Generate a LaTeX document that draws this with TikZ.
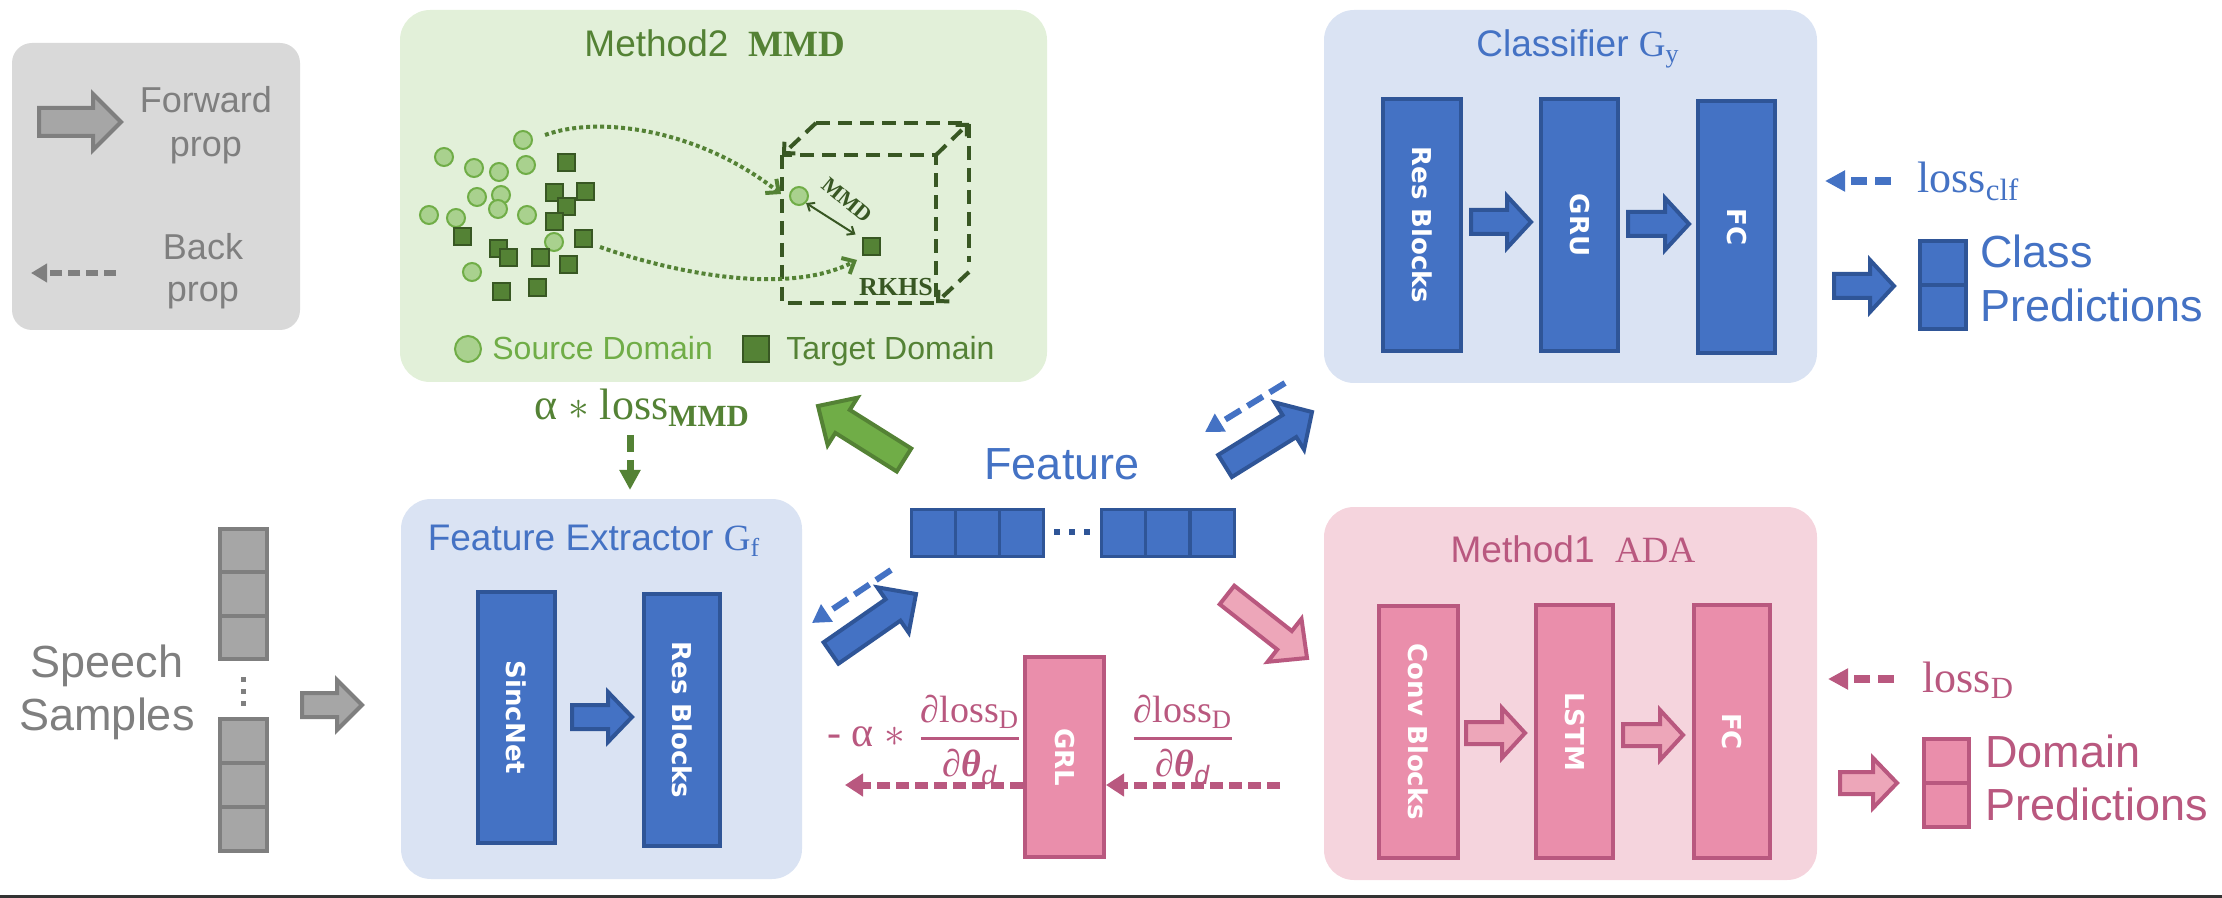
\documentclass[tikz,border=0pt]{standalone}
\usepackage{fontspec}
\setmainfont{Liberation Sans}
\newfontfamily\tms{Liberation Serif}
\newfontfamily\blk{DejaVu Sans}
\usetikzlibrary{calc,fit,arrows.meta}
\definecolor{cBlue}{HTML}{4472C4}
\definecolor{cBlueD}{HTML}{2F5597}
\definecolor{cBlueL}{HTML}{DAE3F3}
\definecolor{cGreenL}{HTML}{E2F0D9}
\definecolor{cGreen}{HTML}{70AD47}
\definecolor{cGreenD}{HTML}{548235}
\definecolor{cGreenDD}{HTML}{385723}
\definecolor{cSrc}{HTML}{A9D18E}
\definecolor{cPinkL}{HTML}{F5D4DD}
\definecolor{cPink}{HTML}{EA8EAB}
\definecolor{cPinkA}{HTML}{EDA6B9}
\definecolor{cPinkD}{HTML}{B9587F}
\definecolor{cGray}{HTML}{D9D9D9}
\definecolor{cGrayM}{HTML}{A6A6A6}
\definecolor{cGrayD}{HTML}{7F7F7F}
\newcommand\blockarrow[6]{%
  \path ($(#3)!#6!(#2)$) coordinate (bahb);
  \draw[#1] ($(#2)!#4!90:(#3)$) -- ($(bahb)!#4!90:(#3)$) -- ($(bahb)!#5!90:(#3)$) -- (#3)
     -- ($(bahb)!#5!-90:(#3)$) -- ($(bahb)!#4!-90:(#3)$) -- ($(#2)!#4!-90:(#3)$) -- cycle;}
\tikzset{
  panel/.style={rounded corners=15pt, inner sep=0pt},
  blkbase/.style={line width=2pt, inner sep=0pt, rotate=-90, text=white,
     font=\blk\bfseries\fontsize{13pt}{15pt}\selectfont},
  bblk/.style={blkbase, draw=cBlueD, fill=cBlue},
  pblk/.style={blkbase, draw=cPinkD, fill=cPink},
  barB/.style={fill=cBlue, draw=cBlueD, line width=2pt},
  barP/.style={fill=cPinkA, draw=cPinkD, line width=2pt},
  barG/.style={fill=cGreen, draw=cGreenD, line width=2pt},
  barGr/.style={fill=cGrayM, draw=cGrayD, line width=2pt},
  bbk/.style={draw=cBlue, line width=3pt, dash pattern=on 9pt off 4pt, -{Triangle[length=9pt,width=10pt]}},
  pbk/.style={draw=cPinkD, line width=3.5pt, dash pattern=on 6.5pt off 3pt, -{Triangle[length=9pt,width=11pt]}},
  lossB/.style={draw=cBlue, line width=4pt, dash pattern=on 8pt off 4pt, -{Triangle[length=10pt,width=10pt]}},
  lossP/.style={draw=cPinkD, line width=4pt, dash pattern=on 8pt off 4pt, -{Triangle[length=10pt,width=10pt]}},
  gbk/.style={draw=cGrayD, line width=3pt, dash pattern=on 6pt off 3pt, -{Triangle[length=8pt,width=9pt]}},
  gvk/.style={draw=cGreenD, line width=3.5pt, dash pattern=on 8.5pt off 4pt, -{Triangle[length=10pt,width=10pt]}},
  dotc/.style={draw=cGreenD, line width=2pt, dash pattern=on 2pt off 1.5pt, -{Straight Barb[length=5pt,width=9pt]}},
  cube/.style={draw=cGreenDD, line width=2pt, dash pattern=on 7pt off 4pt},
  cubea/.style={cube, -{Straight Barb[length=4pt,width=8pt]}},
  src/.style={circle, fill=cSrc, draw=cGreen, line width=1pt, minimum size=9pt, inner sep=0pt},
  tgt/.style={rectangle, fill=cGreenD, draw=cGreenDD, line width=1pt, minimum size=8.5pt, inner sep=0pt},
  gcell/.style={rectangle, fill=cGrayM, draw=cGrayD, line width=2pt, minimum width=23.5pt, minimum height=21.75pt, inner sep=0pt},
  fcell/.style={rectangle, fill=cBlue, draw=cBlueD, line width=1.5pt, minimum width=22pt, minimum height=23.5pt, inner sep=0pt},
  ccell/.style={rectangle, fill=cBlue, draw=cBlueD, line width=2pt, minimum width=23pt, minimum height=22pt, inner sep=0pt},
  dcell/.style={rectangle, fill=cPink, draw=cPinkD, line width=2pt, minimum width=22.5pt, minimum height=22pt, inner sep=0pt},
  txt/.style={inner sep=0pt},
  ltxt/.style={txt, text=cGrayD, font=\fontsize{18pt}{20pt}\selectfont},
  bigtxt/.style={txt, font=\fontsize{22.5pt}{26pt}\selectfont},
  ttl/.style={txt, font=\fontsize{18.5pt}{21pt}\selectfont},
  frc/.style={txt, text=cPinkD, font=\tms\fontsize{19pt}{21pt}\selectfont},
}
\begin{document}
\begin{tikzpicture}[x=0.5pt,y=-0.5pt]
\useasboundingbox (0,0) rectangle (2222,898);
% panels
\node[panel, rounded corners=10pt, fill=cGray, fit={(12,43)(300,330)}] (legend) {};
\node[panel, fill=cGreenL, fit={(400,10)(1047,382)}] (mmdbox) {};
\node[panel, fill=cBlueL, fit={(1324,10)(1817,383)}] (clfbox) {};
\node[panel, fill=cBlueL, fit={(401,499)(802,879)}] (fexbox) {};
\node[panel, fill=cPinkL, fit={(1324,507)(1817,880)}] (adabox) {};
% legend
\coordinate (fwS) at (39,122); \coordinate (fwE) at (121,122);
\blockarrow{barGr}{fwS}{fwE}{7pt}{14pt}{14pt}
\node[ltxt, anchor=base] (fwd1) at (206,113) {Forward};
\node[ltxt, anchor=base] (fwd2) at (206,157) {prop};
\coordinate (bkS) at (116,273); \coordinate (bkE) at (31,273);
\draw[gbk] (bkS) -- (bkE);
\node[ltxt, anchor=base] (bk1) at (203,260) {Back};
\node[ltxt, anchor=base] (bk2) at (203,302) {prop};
% speech samples
\node[bigtxt, text=cGrayD, anchor=base] (sp1) at (107,677) {Speech};
\node[bigtxt, text=cGrayD, anchor=base] (sp2) at (107,730) {Samples};
\foreach \y [count=\i] in {550.5,594,637.5} \node[gcell] (ua\i) at (243.5,\y) {};
\foreach \y [count=\i] in {741,785,829} \node[gcell] (ub\i) at (243.5,\y) {};
\foreach \y [count=\i] in {679,691,703} \node[rectangle, fill=cGrayD, minimum size=2.5pt, inner sep=0pt] (ud\i) at (243.5,\y) {};
\coordinate (spS) at (302,705); \coordinate (spE) at (362,705);
\blockarrow{barGr}{spS}{spE}{6pt}{12.5pt}{12.5pt}
% feature extractor
\node[ttl, text=cBlue, anchor=base] (fexT) at (594,550) {Feature Extractor {\tms G\textsubscript{f}}};
\node[bblk, minimum width=125.5pt, minimum height=38.5pt] (sinc) at (516.5,717.5) {SincNet};
\node[bblk, minimum width=126pt, minimum height=38pt] (res1) at (682,720) {Res Blocks};
\coordinate (a1s) at (572,717); \coordinate (a1e) at (632,717);
\blockarrow{barB}{a1s}{a1e}{6pt}{12.5pt}{12pt}
% feature
\node[bigtxt, text=cBlue, anchor=base] (featT) at (1062,480) {Feature};
\foreach \x [count=\i] in {933,977,1021,1123,1167.5,1212.5} \node[fcell] (fc\i) at (\x,532.5) {};
\foreach \x [count=\i] in {1057,1072,1087} \node[rectangle, fill=cBlueD, minimum size=3pt, inner sep=0pt] (fd\i) at (\x,532) {};
% diagonal arrows
\coordinate (d1s) at (831,653); \coordinate (d1e) at (916,594);
\blockarrow{barB}{d1s}{d1e}{6.5pt}{13.8pt}{14pt}
\coordinate (d1bs) at (891,570); \coordinate (d1be) at (812,623);
\draw[bbk] (d1bs) -- (d1be);
\coordinate (g1s) at (904,460); \coordinate (g1e) at (818,406);
\blockarrow{barG}{g1s}{g1e}{6.8pt}{14pt}{14.5pt}
\coordinate (c1s) at (1225,466); \coordinate (c1e) at (1312,412);
\blockarrow{barB}{c1s}{c1e}{6.5pt}{13.9pt}{13.3pt}
\coordinate (c1bs) at (1285,383); \coordinate (c1be) at (1205,432);
\draw[bbk] (c1bs) -- (c1be);
\coordinate (p1s) at (1227,595); \coordinate (p1e) at (1307,658);
\blockarrow{barP}{p1s}{p1e}{5.9pt}{13.7pt}{14.3pt}
% GRL
\node[pblk, minimum width=100pt, minimum height=39.5pt] (grl) at (1064.5,757) {GRL};
\coordinate (pr) at (1280,785); \coordinate (pl) at (845,785);
\draw[pbk] (pr) -- (grl.north |- pr);
\draw[pbk] (grl.south |- pl) -- (pl);
\node[txt, text=cPinkD, font=\tms\fontsize{21pt}{23pt}\selectfont] (ma) at (866,737) {- α $\ast$};
\node[frc] (fr1) at (970,740)
  {$\displaystyle{\mbox{∂loss\textsubscript{D}}\above 1.5pt\mbox{\bfseries\itshape ∂θ\textsubscript{\normalfont\itshape d}}}$};
\node[frc] (fr2) at (1183,740)
  {$\displaystyle{\mbox{∂loss\textsubscript{D}}\above 1.5pt\mbox{\bfseries\itshape ∂θ\textsubscript{\normalfont\itshape d}}}$};
% Method1 ADA
\node[ttl, text=cPinkD, anchor=base] (adaT) at (1573,562) {Method1\ \ {\tms ADA}};
\node[pblk, minimum width=126pt, minimum height=39.5pt] (conv) at (1418.5,732) {Conv Blocks};
\node[pblk, minimum width=126.5pt, minimum height=38.5pt] (lstm) at (1574.5,731.5) {LSTM};
\node[pblk, minimum width=126.5pt, minimum height=38pt] (fc2) at (1732,731.5) {FC};
\coordinate (m1s) at (1466,733); \coordinate (m1e) at (1525,733);
\blockarrow{barP}{m1s}{m1e}{5.5pt}{12.5pt}{11.5pt}
\coordinate (m2s) at (1623,735); \coordinate (m2e) at (1683,735);
\blockarrow{barP}{m2s}{m2e}{5.5pt}{12.5pt}{11.5pt}
\coordinate (ldS) at (1894,679); \coordinate (ldE) at (1828,679);
\draw[lossP] (ldS) -- (ldE);
\node[txt, text=cPinkD, font=\tms\fontsize{22pt}{24pt}\selectfont, anchor=base west] (lossD) at (1922,692) {loss\textsubscript{D}};
\coordinate (o2s) at (1840,783); \coordinate (o2e) at (1897,783);
\blockarrow{barP}{o2s}{o2e}{5.5pt}{12.5pt}{12pt}
\node[dcell] (dp1) at (1946.5,761) {};
\node[dcell] (dp2) at (1946.5,805) {};
\node[bigtxt, text=cPinkD, anchor=base west] (dom1) at (1985,767) {Domain};
\node[bigtxt, text=cPinkD, anchor=base west] (dom2) at (1985,820) {Predictions};
% Classifier
\node[ttl, text=cBlue, anchor=base] (clfT) at (1578,57) {Classifier {\tms G\textsubscript{y}}};
\node[bblk, minimum width=126pt, minimum height=39pt] (res2) at (1422,225) {Res Blocks};
\node[bblk, minimum width=126pt, minimum height=38.5pt] (gru) at (1579.5,225) {GRU};
\node[bblk, minimum width=126pt, minimum height=38.5pt] (fc1) at (1736.5,227) {FC};
\coordinate (k1s) at (1471,222); \coordinate (k1e) at (1531,222);
\blockarrow{barB}{k1s}{k1e}{6pt}{13pt}{12pt}
\coordinate (k2s) at (1628,224); \coordinate (k2e) at (1689,224);
\blockarrow{barB}{k2s}{k2e}{6pt}{13pt}{12pt}
\coordinate (lcS) at (1891,181); \coordinate (lcE) at (1825,181);
\draw[lossB] (lcS) -- (lcE);
\node[txt, text=cBlue, font=\tms\fontsize{22pt}{24pt}\selectfont, anchor=base west] (lossC) at (1917,193) {loss\textsubscript{clf}};
\coordinate (o1s) at (1834,286); \coordinate (o1e) at (1894,286);
\blockarrow{barB}{o1s}{o1e}{6pt}{13pt}{12pt}
\node[ccell] (cp1) at (1943,263) {};
\node[ccell] (cp2) at (1943,307.5) {};
\node[bigtxt, text=cBlue, anchor=base west] (cls1) at (1980,268) {Class};
\node[bigtxt, text=cBlue, anchor=base west] (cls2) at (1980,322) {Predictions};
% Method2 MMD
\node[ttl, text=cGreenD, anchor=base] (mmdT) at (715,57) {Method2\ \ {\tms\bfseries MMD}};
\foreach \x/\y [count=\i] in {523/140,444/157,474/168,499/172,526/165,477/197,501/195,498/209,429/215,456/218,527/215,554/242,472/272}
  \node[src] (s\i) at (\x,\y) {};
\foreach \x/\y [count=\i] in {566/163,554/193,585/192,566/207,554/222,462/237,583/239,498/249,508/258,540/258,568/265,501/292,537/288}
  \node[tgt] (t\i) at (\x,\y) {};
\node[src] (qc) at (799,196) {};
\node[tgt] (qs) at (871,247) {};
% cube
\draw[cube] (782,155) rectangle (936,303);
\draw[cube] (816,123) -- (969,123) -- (969,262);
\coordinate (cbA) at (816,123); \coordinate (cbB) at (782,155);
\coordinate (cbC) at (936,155); \coordinate (cbD) at (969,123);
\coordinate (cbE) at (969,272); \coordinate (cbF) at (936,303);
\draw[cubea] (cbA) -- (cbB);
\draw[cubea] (cbC) -- (cbD);
\draw[cubea] (cbE) -- (cbF);
\coordinate (c1a) at (545,135); \coordinate (c1b) at (781,194);
\draw[dotc] (c1a) .. controls (600,115) and (700,130) .. (c1b);
\coordinate (c2a) at (600,247); \coordinate (c2b) at (857,260);
\draw[dotc] (c2a) .. controls (680,275) and (790,295) .. (c2b);
\draw[draw=cGreenDD, line width=1pt, {Straight Barb[length=3pt,width=5pt]}-{Straight Barb[length=3pt,width=5pt]}] (qc.south east) -- ([shift={(-6,-3)}]qs.north west);
\node[txt, text=cGreenDD, rotate=-40, font=\tms\bfseries\fontsize{11pt}{12pt}\selectfont] (mmdL) at (847,200) {MMD};
\node[txt, text=cGreenDD, font=\tms\bfseries\fontsize{13pt}{14pt}\selectfont] (rkhs) at (896,287) {RKHS};
\node[src, minimum size=13pt] (ls) at (468,349) {};
\node[txt, text=cGreen, anchor=base west, font=\fontsize{16pt}{18pt}\selectfont] (lsT) at (492,360) {Source Domain};
\node[tgt, minimum size=13pt] (lt) at (756,349) {};
\node[txt, text=cGreenD, anchor=base west, font=\fontsize{16pt}{18pt}\selectfont] (ltT) at (786,360) {Target Domain};
% alpha * loss_MMD
\node[txt, text=cGreenD, anchor=base, font=\tms\fontsize{22pt}{24pt}\selectfont] (aloss) at (642,420) {α $\ast$ loss\textsubscript{\bfseries MMD}};
\coordinate (vS) at (630,435); \coordinate (vE) at (630,490);
\draw[gvk] (vS) -- (vE);
% bottom rule
\fill[black!80] (0,895) rectangle (2222,898);
\end{tikzpicture}
\end{document}
